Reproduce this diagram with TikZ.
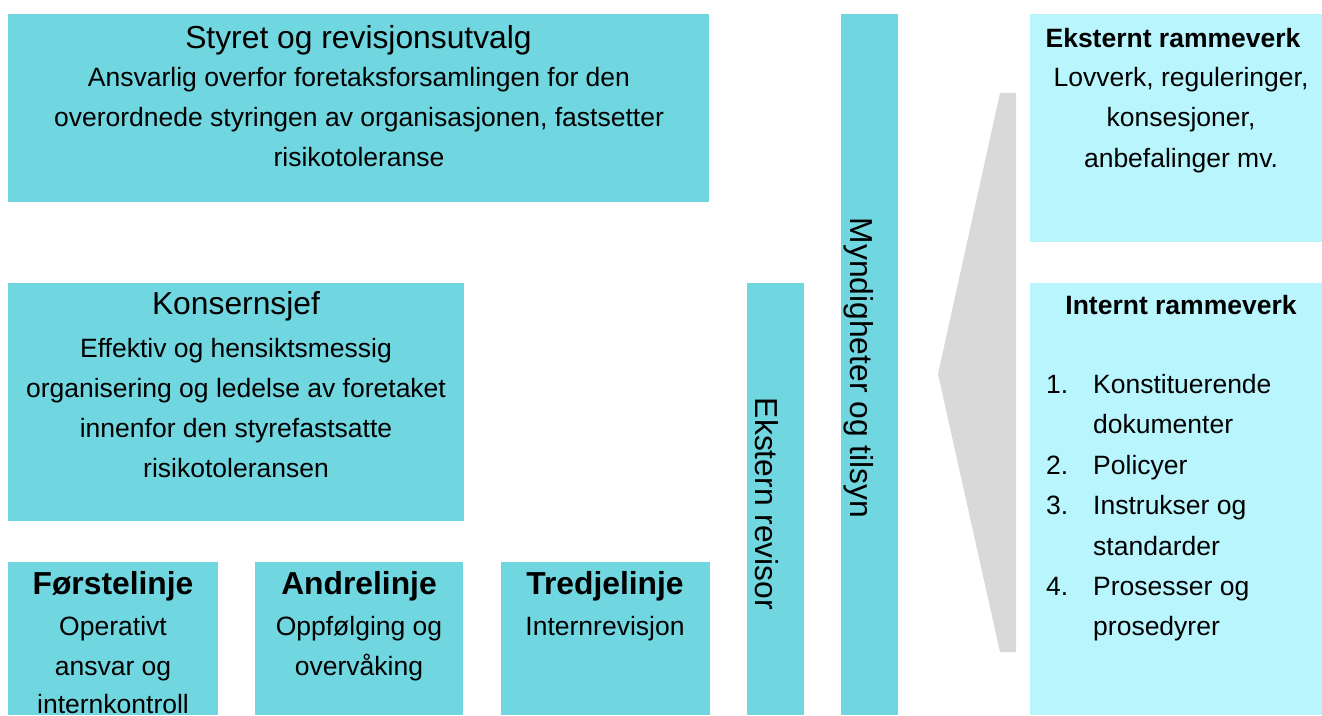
\documentclass[tikz,border=0pt]{standalone}
\usepackage{fontspec}
\setmainfont{Liberation Sans}
\definecolor{tealfill}{HTML}{70D6E0}
\definecolor{cyanfill}{HTML}{B8F5FD}
\definecolor{grayfill}{HTML}{D9D9D9}
\newcommand{\titlefont}{\fontsize{31.8bp}{38bp}\selectfont}
\newcommand{\bodyfont}{\fontsize{26.5bp}{40bp}\selectfont}
\begin{document}
\begin{tikzpicture}[x=1bp,y=-1bp,
  boxbase/.style={draw=none,inner sep=0,outer sep=0,anchor=north west},
  tealbox/.style={boxbase,fill=tealfill},
  cyanbox/.style={boxbase,fill=cyanfill},
  ttl/.style={inner sep=0,anchor=base,font=\titlefont},
  ttlb/.style={inner sep=0,anchor=base,font=\titlefont\bfseries},
  bdy/.style={inner sep=0,anchor=base,font=\bodyfont},
  bdyb/.style={inner sep=0,anchor=base,font=\bodyfont\bfseries},
  lst/.style={inner sep=0,anchor=base west,font=\bodyfont},
  vtxt/.style={inner sep=0,anchor=base,rotate=-90,font=\titlefont}]
\useasboundingbox (0,0) rectangle (1322,715);
% boxes
\node[tealbox,minimum width=701bp,minimum height=188bp] (styret) at (8,14) {};
\node[tealbox,minimum width=456bp,minimum height=238bp] (konsern) at (8,283) {};
\node[tealbox,minimum width=210bp,minimum height=153bp] (forste) at (8,562) {};
\node[tealbox,minimum width=208bp,minimum height=153bp] (andre) at (255,562) {};
\node[tealbox,minimum width=209bp,minimum height=153bp] (tredje) at (501,562) {};
\node[tealbox,minimum width=57bp,minimum height=432bp] (ekstrev) at (747,283) {};
\node[tealbox,minimum width=57bp,minimum height=701bp] (mynd) at (841,14) {};
\node[cyanbox,minimum width=292bp,minimum height=228bp] (ekstramme) at (1030,14) {};
\node[cyanbox,minimum width=292bp,minimum height=432bp] (intramme) at (1030,283) {};
% gray arrow shape
\fill[grayfill] (1000,93) -- (1016,93) -- (1016,652) -- (1000,652) -- (938,374) -- cycle;
% Styret
\node[ttl] (styretT) at (358.5,49) {Styret og revisjonsutvalg};
\node[bdy] (styret1) at (359,86.5) {Ansvarlig overfor foretaksforsamlingen for den};
\node[bdy] (styret2) at (359,126.5) {overordnede styringen av organisasjonen, fastsetter};
\node[bdy] (styret3) at (359,166.5) {risikotoleranse};
% Konsernsjef
\node[ttl] (konsernT) at (236,314) {Konsernsjef};
\node[bdy] (konsern1) at (236,357) {Effektiv og hensiktsmessig};
\node[bdy] (konsern2) at (236,397) {organisering og ledelse av foretaket};
\node[bdy] (konsern3) at (236,437) {innenfor den styrefastsatte};
\node[bdy] (konsern4) at (236,477) {risikotoleransen};
% lines
\node[ttlb] (forsteT) at (113,594) {Førstelinje};
\node[bdy] (forste1) at (113,635) {Operativt};
\node[bdy] (forste2) at (113,675) {ansvar og};
\node[bdy] (forste3) at (113,713) {internkontroll};
\node[ttlb] (andreT) at (359,594) {Andrelinje};
\node[bdy] (andre1) at (359,635) {Oppfølging og};
\node[bdy] (andre2) at (359,675) {overvåking};
\node[ttlb] (tredjeT) at (605,594) {Tredjelinje};
\node[bdy] (tredje1) at (605,635) {Internrevisjon};
% vertical texts
\node[vtxt] (ekstrevT) at (755,504) {Ekstern revisor};
\node[vtxt] (myndT) at (850,368) {Myndigheter og tilsyn};
% Eksternt rammeverk
\node[bdyb] (ekstT) at (1173,48) {Eksternt rammeverk};
\node[bdy] (ekst1) at (1181,87) {Lovverk, reguleringer,};
\node[bdy] (ekst2) at (1181,127) {konsesjoner,};
\node[bdy] (ekst3) at (1181,167) {anbefalinger mv.};
% Internt rammeverk
\node[bdyb] (intT) at (1181,314) {Internt rammeverk};
\node[lst] (n1) at (1046,393) {1.};
\node[lst] (i1a) at (1093,393) {Konstituerende};
\node[lst] (i1b) at (1093,433.5) {dokumenter};
\node[lst] (n2) at (1046,474) {2.};
\node[lst] (i2) at (1093,474) {Policyer};
\node[lst] (n3) at (1046,514) {3.};
\node[lst] (i3a) at (1093,514) {Instrukser og};
\node[lst] (i3b) at (1093,555) {standarder};
\node[lst] (n4) at (1046,595) {4.};
\node[lst] (i4a) at (1093,595) {Prosesser og};
\node[lst] (i4b) at (1093,635) {prosedyrer};
\end{tikzpicture}
\end{document}
